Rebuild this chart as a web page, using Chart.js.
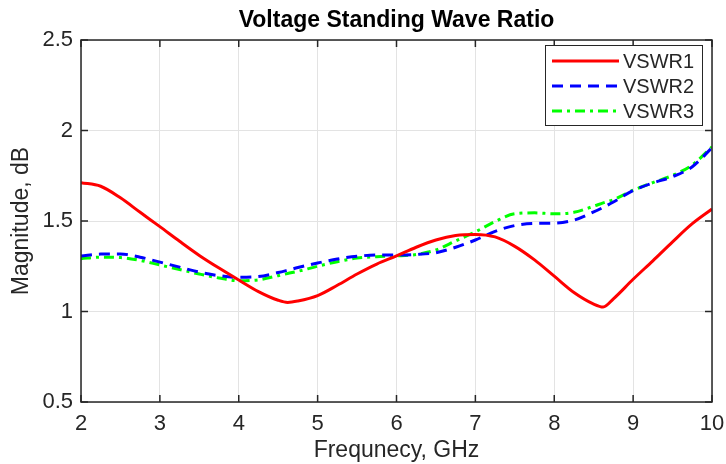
<!DOCTYPE html>
<html>
<head>
<meta charset="utf-8">
<script src="https://cdn.jsdelivr.net/npm/chart.js@4"></script>
<style>
  html, body { margin: 0; padding: 0; background: #fff; }
  #wrap { width: 726px; height: 464px; }
</style>
</head>
<body>
<div id="wrap"><canvas id="myChart" width="726" height="464"></canvas></div>
<script>
// frequency points (GHz)
const frequency = [2, 2.25, 2.5, 2.75, 3, 3.25, 3.5, 3.75, 4, 4.25, 4.5, 4.62, 4.75, 5, 5.25, 5.5, 5.75,
  6, 6.25, 6.5, 6.75, 7, 7.25, 7.5, 7.75, 8, 8.25, 8.5, 8.62, 8.75, 9, 9.25, 9.5, 9.75, 10];

const vswr1 = [1.712, 1.692, 1.628, 1.548, 1.469, 1.388, 1.31, 1.24, 1.174, 1.11, 1.062, 1.05, 1.058, 1.088, 1.145, 1.207, 1.262,
  1.307, 1.355, 1.395, 1.42, 1.426, 1.412, 1.36, 1.285, 1.195, 1.105, 1.041, 1.025, 1.07, 1.178, 1.28, 1.385, 1.485, 1.566];

const vswr2 = [1.306, 1.317, 1.318, 1.3, 1.273, 1.245, 1.218, 1.198, 1.189, 1.193, 1.215, 1.228, 1.243, 1.268, 1.29, 1.305, 1.312,
  1.312, 1.315, 1.325, 1.355, 1.395, 1.443, 1.475, 1.487, 1.488, 1.505, 1.55, 1.575, 1.605, 1.668, 1.71, 1.745, 1.8, 1.905];

const vswr3 = [1.292, 1.3, 1.298, 1.282, 1.257, 1.232, 1.207, 1.185, 1.17, 1.175, 1.198, 1.21, 1.222, 1.25, 1.275, 1.295, 1.303,
  1.307, 1.315, 1.34, 1.39, 1.44, 1.497, 1.54, 1.545, 1.54, 1.548, 1.582, 1.6, 1.618, 1.67, 1.712, 1.752, 1.81, 1.91];

const seriesNames = ['VSWR1', 'VSWR2', 'VSWR3'];
const seriesColors = ['#ff0000', '#0000ff', '#00ff00'];
const seriesDash = [[], [11, 7], [10, 5, 3, 5]];
const chartTitle = 'Voltage Standing Wave Ratio';

const toPoints = vals => vals.map((v, i) => ({ x: frequency[i], y: v }));

const TEXT = '#262626';
const FONT = "'Liberation Sans', Arial, sans-serif";
Chart.defaults.font.family = FONT;
Chart.defaults.color = TEXT;

// box around axes with inward ticks, title over the plot area, legend
const boxPlugin = {
  id: 'box',
  afterDatasetsDraw(chart) {
    const { ctx, chartArea: a, scales: { x, y } } = chart;
    ctx.save();
    ctx.strokeStyle = TEXT;
    ctx.lineWidth = 1.5;
    ctx.strokeRect(a.left, a.top, a.right - a.left, a.bottom - a.top);
    const t = 7;
    ctx.beginPath();
    x.ticks.forEach(tk => {
      const px = x.getPixelForValue(tk.value);
      ctx.moveTo(px, a.bottom); ctx.lineTo(px, a.bottom - t);
      ctx.moveTo(px, a.top); ctx.lineTo(px, a.top + t);
    });
    y.ticks.forEach(tk => {
      const py = y.getPixelForValue(tk.value);
      ctx.moveTo(a.left, py); ctx.lineTo(a.left + t, py);
      ctx.moveTo(a.right, py); ctx.lineTo(a.right - t, py);
    });
    ctx.stroke();

    // title
    ctx.fillStyle = '#000';
    ctx.font = 'bold 23px ' + FONT;
    ctx.textAlign = 'center';
    ctx.textBaseline = 'middle';
    ctx.fillText(chartTitle, (a.left + a.right) / 2, 21);

    // legend
    const w = 157, h = 80;
    const bx = a.right - 10 - w, by = a.top + 5;
    ctx.fillStyle = '#fff';
    ctx.fillRect(bx, by, w, h);
    ctx.lineWidth = 1;
    ctx.strokeRect(bx + 0.5, by + 0.5, w, h);
    ctx.font = '20px ' + FONT;
    ctx.textAlign = 'left';
    chart.data.datasets.forEach((ds, i) => {
      const ry = by + 16 + i * 25;
      ctx.strokeStyle = ds.borderColor;
      ctx.lineWidth = 3;
      ctx.setLineDash(ds.borderDash || []);
      ctx.beginPath();
      ctx.moveTo(bx + 7, ry); ctx.lineTo(bx + 74, ry);
      ctx.stroke();
      ctx.setLineDash([]);
      ctx.fillStyle = TEXT;
      ctx.fillText(ds.label, bx + 78, ry + 1);
    });
    ctx.restore();
  }
};

const chart = new Chart(document.getElementById('myChart').getContext('2d'), {
  type: 'line',
  data: {
    datasets: [vswr1, vswr2, vswr3].map((vals, i) => ({
      label: seriesNames[i],
      data: toPoints(vals),
      borderColor: seriesColors[i],
      borderDash: seriesDash[i],
      borderWidth: 3,
      pointRadius: 0,
      fill: false,
      cubicInterpolationMode: 'monotone'
    }))
  },
  options: {
    responsive: false,
    animation: false,
    layout: { padding: { left: 0, right: 14, top: 40, bottom: 0 } },
    plugins: {
      legend: { display: false },
      tooltip: { enabled: false },
      title: { display: false }
    },
    scales: {
      x: {
        type: 'linear',
        min: 2, max: 10,
        ticks: { stepSize: 1, font: { size: 22 }, padding: 9, maxRotation: 0 },
        grid: { color: '#e3e3e3', drawTicks: false },
        border: { display: false },
        title: { display: true, text: 'Frequnecy, GHz', font: { size: 23 }, padding: { top: 2, bottom: 0 } },
        afterFit(s) { s.height = 62; s.paddingLeft = 0; s.paddingRight = 0; }
      },
      y: {
        min: 0.5, max: 2.5,
        ticks: { stepSize: 0.5, font: { size: 22 }, padding: 8, callback: v => String(v) },
        grid: { color: '#e3e3e3', drawTicks: false },
        border: { display: false },
        title: { display: true, text: 'Magnitude, dB', font: { size: 23 }, padding: { top: 8, bottom: 0 } },
        afterFit(s) { s.width = 81; s.paddingTop = 0; s.paddingBottom = 0; }
      }
    }
  },
  plugins: [boxPlugin]
});
</script>
</body>
</html>
